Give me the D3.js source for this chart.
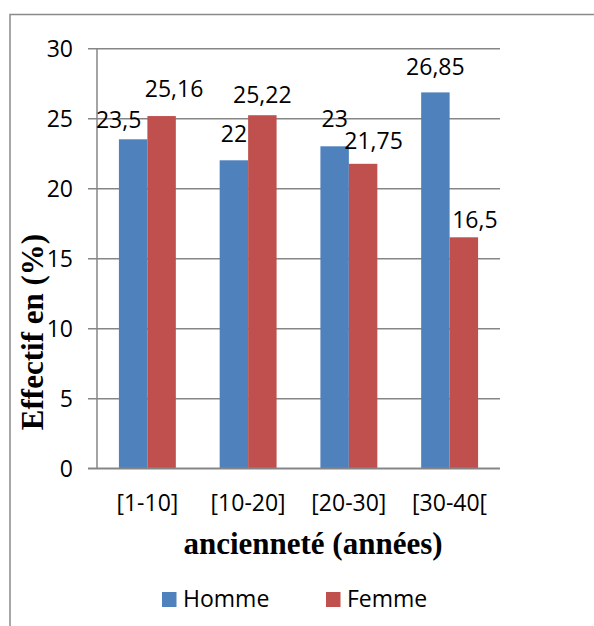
<!DOCTYPE html>
<html><head><meta charset="utf-8">
<script src="https://cdn.jsdelivr.net/npm/d3@7"></script>
<style>
html,body{margin:0;padding:0;background:#fff;}
svg{display:block;}
</style></head>
<body>
<svg id="chart" width="594" height="626"></svg>
<script>
const categories = ["[1-10]", "[10-20]", "[20-30]", "[30-40["];
const seriesNames = ["Homme", "Femme"];
const homme = [23.5, 22, 23, 26.85];
const femme = [25.16, 25.22, 21.75, 16.5];
const labelsHomme = ["23,5", "22", "23", "26,85"];
const labelsFemme = ["25,16", "25,22", "21,75", "16,5"];
const yTicks = [0, 5, 10, 15, 20, 25, 30];
const colors = ["#4F81BD", "#C0504D"];
// manual label nudges (dx, gap above bar top), as in the original
const labelNudgeHomme = [[-14.5, 11], [0, 18], [0, 19.5], [0, 17.5]];
const labelNudgeFemme = [[12.5, 19.5], [0, 12], [10.5, 14.5], [11, 9]];

const svg = d3.select("#chart");
const sans = "'Open Sans', sans-serif";
const serif = "'Liberation Serif', 'Times New Roman', serif";

// outer frame (cropped at right/bottom)
svg.append("rect").attr("x", 10).attr("y", 14.5).attr("width", 700).attr("height", 700)
  .attr("fill", "none").attr("stroke", "#8a8a8a").attr("stroke-width", 1.5);

const pLeft = 97, pRight = 500, pTop = 48.3, pBottom = 468.3;
const y = d3.scaleLinear().domain([0, 30]).range([pBottom, pTop]);
const x0 = d3.scaleBand().domain(categories).range([pLeft, pRight]).padding(0);
const x1 = d3.scaleBand().domain(seriesNames).range([0, x0.bandwidth()]).paddingInner(0).paddingOuter(0.77);

// gridlines + ticks
const yAxis = d3.axisLeft(y).tickValues(yTicks).tickSize(-(pRight - pLeft)).tickFormat(d => d);
const gy = svg.append("g").attr("transform", `translate(${pLeft},0)`).call(yAxis);
gy.select(".domain").remove();
gy.selectAll(".tick line").attr("stroke", "#868686").attr("stroke-width", 1.5).attr("x1", -9);
gy.selectAll(".tick text").attr("x", -24).attr("font-family", sans).attr("font-size", 23)
  .attr("fill", "#000").attr("dy", "0.35em");
// y axis line
svg.append("line").attr("x1", pLeft).attr("x2", pLeft).attr("y1", pTop).attr("y2", pBottom)
  .attr("stroke", "#868686").attr("stroke-width", 1.5);

// bars
const data = categories.map((c, i) => ({cat: c, vals: [
  {s: "Homme", v: homme[i], lab: labelsHomme[i], n: labelNudgeHomme[i], c: colors[0]},
  {s: "Femme", v: femme[i], lab: labelsFemme[i], n: labelNudgeFemme[i], c: colors[1]}
]}));
const groups = svg.append("g").selectAll("g").data(data).join("g")
  .attr("transform", d => `translate(${x0(d.cat)},0)`);
groups.selectAll("rect").data(d => d.vals).join("rect")
  .attr("x", d => x1(d.s)).attr("width", x1.bandwidth())
  .attr("y", d => y(d.v)).attr("height", d => y(0) - y(d.v))
  .attr("fill", d => d.c);
groups.selectAll("text").data(d => d.vals).join("text")
  .attr("x", d => x1(d.s) + x1.bandwidth() / 2 + d.n[0])
  .attr("y", d => y(d.v) - d.n[1])
  .attr("text-anchor", "middle").attr("font-family", sans).attr("font-size", 23).attr("fill", "#000")
  .text(d => d.lab);

// x axis line (over bars)
svg.append("line").attr("x1", pLeft - 9).attr("x2", pRight).attr("y1", pBottom).attr("y2", pBottom)
  .attr("stroke", "#868686").attr("stroke-width", 1.5);

// x tick labels
const xAxis = d3.axisBottom(x0).tickSize(0).tickPadding(0);
const gx = svg.append("g").attr("transform", `translate(0,${pBottom})`).call(xAxis);
gx.select(".domain").remove();
gx.selectAll(".tick text").attr("y", 43).attr("dy", 0).attr("font-family", sans).attr("font-size", 23).attr("fill", "#000");

// axis titles
svg.append("text").attr("x", 313).attr("y", 554).attr("text-anchor", "middle")
  .attr("font-family", serif).attr("font-weight", "bold").attr("font-size", 31).attr("fill", "#000")
  .text("ancienneté (années)");
svg.append("text").attr("transform", "translate(43,332) rotate(-90)").attr("text-anchor", "middle")
  .attr("font-family", serif).attr("font-weight", "bold").attr("font-size", 31).attr("fill", "#000")
  .text("Effectif en (%)");

// legend
const legX = [162, 326];
const lg = svg.append("g").selectAll("g").data(seriesNames).join("g")
  .attr("transform", (d, i) => `translate(${legX[i]},592)`);
lg.append("rect").attr("width", 14.5).attr("height", 15).attr("fill", (d, i) => colors[i]);
lg.append("text").attr("x", 21).attr("y", 15).attr("font-family", sans).attr("font-size", 23).attr("fill", "#000").text(d => d);
</script>
</body></html>
